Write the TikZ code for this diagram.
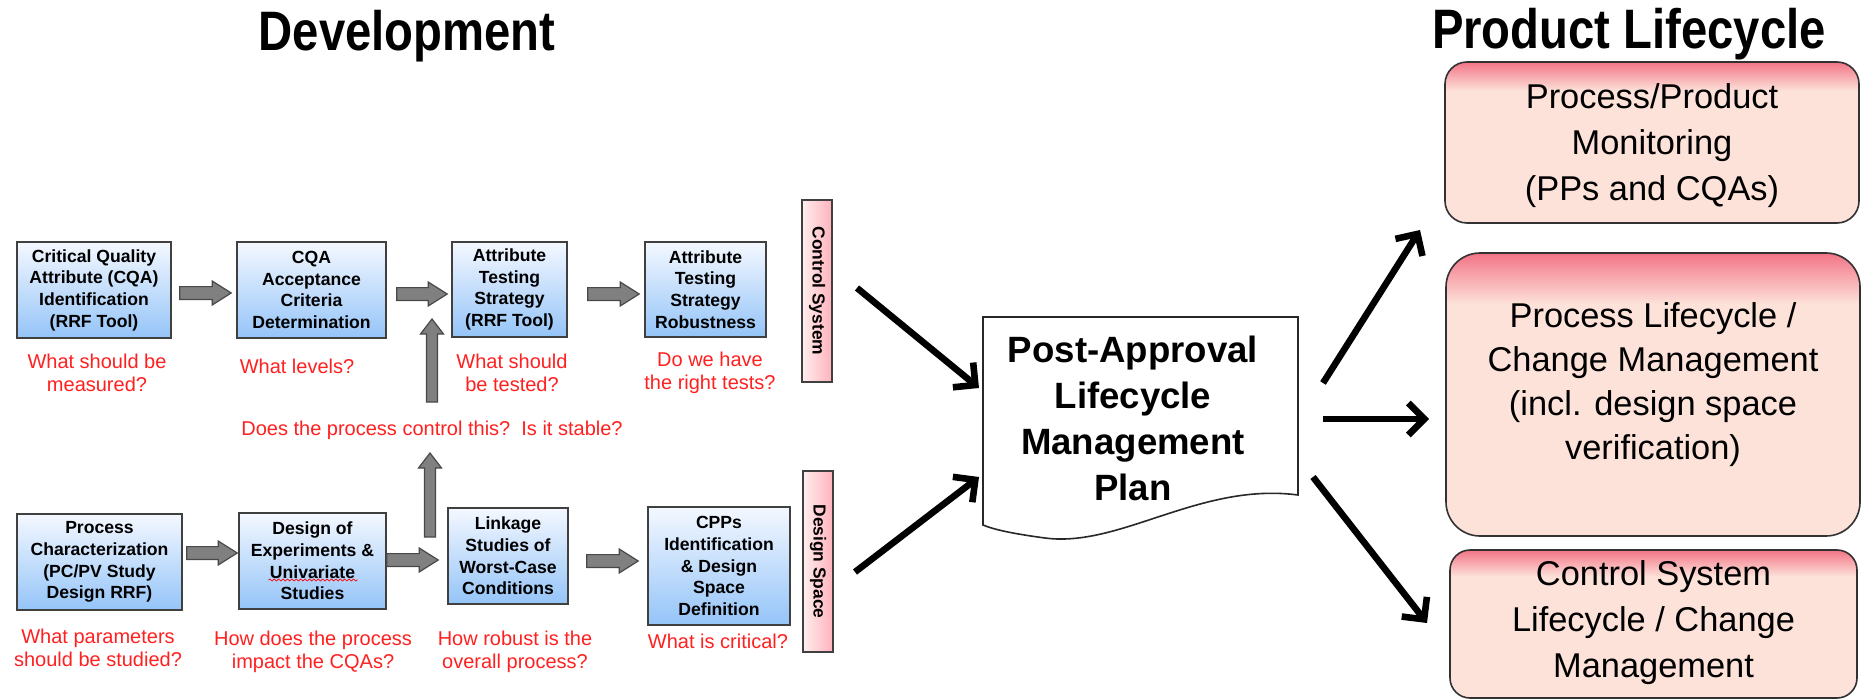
\documentclass[tikz,border=0pt]{standalone}
\usepackage{fontspec}
\setmainfont{Liberation Sans}
\newfontfamily\titlefont[FakeStretch=0.85]{Liberation Sans}
\usetikzlibrary{calc,arrows.meta,decorations.pathmorphing}

\definecolor{bluetop}{RGB}{244,248,255}
\definecolor{bluebot}{RGB}{148,196,248}
\definecolor{boxedge}{RGB}{64,64,64}
\definecolor{docedge}{RGB}{40,40,40}
\definecolor{lifeedge}{RGB}{50,50,50}
\definecolor{barlo}{RGB}{255,238,238}
\definecolor{barhi}{RGB}{255,178,188}
\definecolor{pinkhi}{RGB}{242,116,134}
\definecolor{pinklo}{RGB}{253,226,218}
\definecolor{qred}{RGB}{255,32,32}
\definecolor{arrowgray}{RGB}{128,128,128}
\definecolor{arrowedge}{RGB}{72,72,72}

% pink fill that fades in from the top edge of the lifecycle boxes
\pgfdeclareverticalshading{lifeshade}{100bp}{color(0bp)=(pinklo); color(66bp)=(pinklo);
  color(75bp)=(pinkhi); color(100bp)=(pinkhi)}

% horizontal block arrow: from point #1 to the x of point #2, at the y of #1
\newcommand\harrow[2]{%
  \draw[blockarrow] let \p1=#1, \p2=#2 in
    ({\x1},{\y1+3.2pt}) -- ({\x2-9.5pt},{\y1+3.2pt}) -- ({\x2-9.5pt},{\y1+6pt})
    -- ({\x2},{\y1}) -- ({\x2-9.5pt},{\y1-6pt}) -- ({\x2-9.5pt},{\y1-3.2pt})
    -- ({\x1},{\y1-3.2pt}) -- cycle;}
% upward block arrow: from point #1 up to the y of point #2
\newcommand\varrow[2]{%
  \draw[blockarrow] let \p1=#1, \p2=#2 in
    ({\x1-2.75pt},{\y1}) -- ({\x1-2.75pt},{\y2-7.5pt}) -- ({\x1-5.75pt},{\y2-7.5pt})
    -- ({\x1},{\y2}) -- ({\x1+5.75pt},{\y2-7.5pt}) -- ({\x1+2.75pt},{\y2-7.5pt})
    -- ({\x1+2.75pt},{\y1}) -- cycle;}

\tikzset{
  stepbox/.style={draw=boxedge, line width=0.8pt, top color=bluetop, bottom color=bluebot,
    font=\bfseries\fontsize{8.8}{10.85}\selectfont, align=center, inner sep=0pt},
  sidebar/.style={draw=boxedge, line width=0.8pt, left color=barlo, right color=barhi, inner sep=0pt},
  bartext/.style={font=\bfseries\fontsize{8.7}{10}\selectfont, rotate=-90},
  question/.style={text=qred, font=\fontsize{10}{11.5}\selectfont, align=center, inner sep=0pt},
  blockarrow/.style={fill=arrowgray, draw=arrowedge, line width=0.6pt, line join=miter},
  bigarrow/.style={line width=3.3pt, -{Straight Barb[length=8pt,width=16pt]}},
  lifebox/.style={draw=lifeedge, line width=0.8pt, shading=lifeshade},
  lifetext/.style={font=\fontsize{17.2}{23}\selectfont, align=center, inner sep=0pt},
  heading/.style={font=\titlefont\bfseries\fontsize{27.8}{30}\selectfont, anchor=base, inner sep=0pt},
}

\begin{document}
\begin{tikzpicture}[x=0.5pt, y=-0.5pt]
\useasboundingbox[fill=white] (0,0) rectangle (1862,700);

% headings
\node[heading] (hdev) at (407,51) {Development};
\node[heading] (hlife) at (1629,49) {Product Lifecycle};

% control system row
\node[stepbox, minimum width=77pt, minimum height=48pt] (b1) at (94,290)
  {Critical Quality\\Attribute (CQA)\\Identification\\(RRF Tool)};
\node[stepbox, minimum width=74.5pt, minimum height=48pt] (b2) at (311.5,290)
  {CQA\\Acceptance\\Criteria\\Determination};
\node[stepbox, minimum width=57.5pt, minimum height=47.5pt] (b3) at (509.5,289.5)
  {Attribute\\Testing\\Strategy\\(RRF Tool)};
\node[stepbox, minimum width=60.5pt, minimum height=47.5pt] (b4) at (705.5,289.5)
  {Attribute\\Testing\\Strategy\\Robustness};

% design space row
\node[stepbox, minimum width=82.5pt, minimum height=48pt] (b5) at (99.5,562)
  {Process\\Characterization\\(PC/PV Study\\Design RRF)};
\node[stepbox, minimum width=73.5pt, minimum height=48pt] (b6) at (312.5,561)
  {Design of\\Experiments \&\\Univariate\\Studies};
\node[stepbox, minimum width=60pt, minimum height=48pt] (b7) at (508,556)
  {Linkage\\Studies of\\Worst-Case\\Conditions};
\node[stepbox, minimum width=71pt, minimum height=59pt] (b8) at (719,566)
  {CPPs\\Identification\\\& Design\\Space\\Definition};

% spell-check squiggle under "Univariate"
\draw[red, line width=0.35pt, decorate, decoration={snake, amplitude=0.5pt, segment length=2.2pt}]
  ($(b6)+(-44,19)$) -- ($(b6)+(45,19)$);

% side bars
\node[sidebar, minimum width=15pt, minimum height=91pt] (cs) at (817,291) {};
\node[bartext] at (cs) {Control System};
\node[sidebar, minimum width=15pt, minimum height=90.5pt] (ds) at (818,561.5) {};
\node[bartext] at (ds) {Design Space};

% questions
\node[question] (q1) at (97,373) {What should be\\measured?};
\node[question] (q2) at (297,366) {What levels?};
\node[question] (q3) at (512,373) {What should\\be tested?};
\node[question] (q4) at (710,373) {Do we have\\the right tests?};
\node[question] (q5) at (432,430) {Does the process control this?\ \ Is it stable?};
\node[question] (q6) at (98,648) {What parameters\\should be studied?};
\node[question] (q7) at (313,652) {How does the process\\impact the CQAs?};
\node[question] (q8) at (515,652) {How robust is the\\overall process?};
\node[question] (q9) at (718,641) {What is critical?};

% block arrows along the rows
\harrow{($(b1.east)+(8,3)$)}{($(b2.west)+(-5,0)$)}
\harrow{($(b2.east)+(10,4)$)}{($(b3.west)+(-4,0)$)}
\harrow{($(b3.east)+(20,4.5)$)}{($(b4.west)+(-5,0)$)}
\harrow{($(b5.east)+(4,-9)$)}{($(b6.west)+(-1,0)$)}
\harrow{($(b6.east)+(0,-1)$)}{($(b7.west)+(-9,0)$)}
\harrow{($(b7.east)+(18,5)$)}{($(b8.west)+(-9,0)$)}

% upward arrows between the rows
\coordinate (v1s) at (430,537);
\coordinate (v1e) at (430,453);
\coordinate (v2s) at (432,402);
\coordinate (v2e) at (432,319);
\varrow{(v1s)}{(v1e)}
\varrow{(v2s)}{(v2e)}

% post-approval plan (document shape)
\draw[line width=0.8pt, draw=docedge, fill=white]
  (983,317) -- (1298,317) -- (1298,495)
  .. controls (1200,482) and (1120,548) .. (1045,538)
  .. controls (1015,534) and (995,530) .. (983,525) -- cycle;
\node[font=\bfseries\fontsize{18.3}{23}\selectfont, align=center, inner sep=0pt] (plan) at (1133,418)
  {Post-Approval\\Lifecycle\\Management\\Plan};

% product lifecycle boxes
\node[lifebox, rounded corners=11pt, minimum width=207pt, minimum height=80.5pt] (ra) at (1652,142.5) {};
\node[lifetext] (rat) at (1652,146) {Process/Product\\Monitoring\\(PPs and CQAs)};
\node[lifebox, rounded corners=17pt, minimum width=207pt, minimum height=141.5pt] (rb) at (1653,394.5) {};
\node[lifetext, font=\fontsize{17.2}{22}\selectfont] (rbt) at (1653,385) {Process Lifecycle /\\Change Management\\(incl. design space\\verification)};
\node[lifebox, rounded corners=10pt, minimum width=203.5pt, minimum height=74pt] (rc) at (1653.5,624) {};
\node[lifetext] (rct) at (1653.5,623) {Control System\\Lifecycle / Change\\Management};

% bold arrows
\coordinate (a1s) at (857,288);  \coordinate (a1e) at (979,388);
\coordinate (a2s) at (855,572);  \coordinate (a2e) at (979,477);
\coordinate (a3s) at (1323,383); \coordinate (a3e) at (1420,230);
\coordinate (a4s) at (1323,419); \coordinate (a4e) at (1429,419);
\coordinate (a5s) at (1313,477); \coordinate (a5e) at (1427,623);
\draw[bigarrow] (a1s) -- (a1e);
\draw[bigarrow] (a2s) -- (a2e);
\draw[bigarrow] (a3s) -- (a3e);
\draw[bigarrow] (a4s) -- (a4e);
\draw[bigarrow] (a5s) -- (a5e);
\end{tikzpicture}
\end{document}
